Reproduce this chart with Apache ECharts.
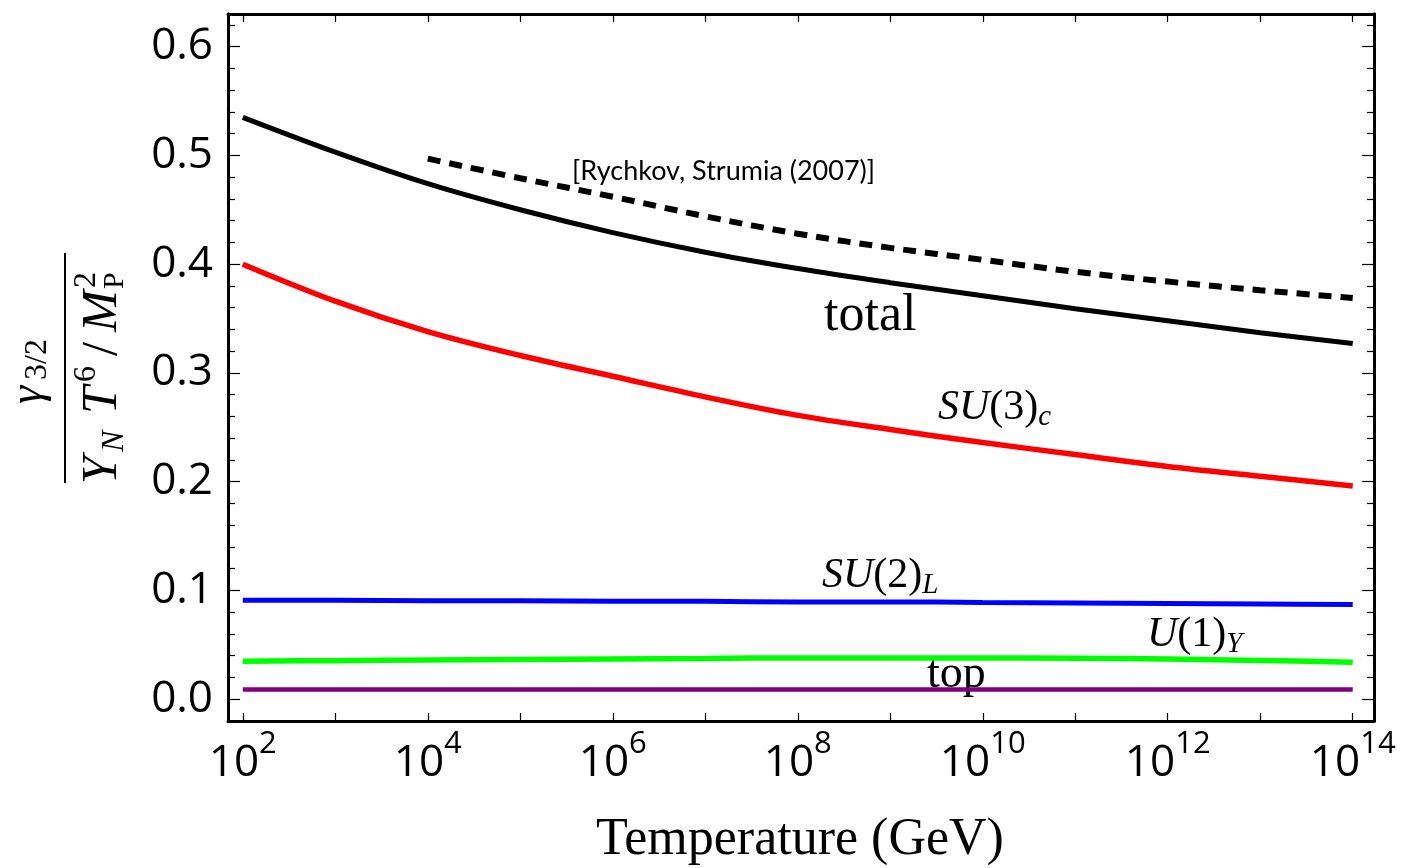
<!DOCTYPE html>
<html>
<head>
<meta charset="utf-8">
<script src="https://cdn.jsdelivr.net/npm/echarts@6/dist/echarts.min.js"></script>
<style>
  html, body { margin: 0; padding: 0; background: #fff; }
  #chart { width: 1402px; height: 868px; }
</style>
</head>
<body>
<div id="chart"></div>
<script>
  // log10(T / GeV), one point per decade
  var exps = [2, 3, 4, 5, 6, 7, 8, 9, 10, 11, 12, 13, 14];
  var total = [0.535, 0.503, 0.474, 0.450, 0.429, 0.411, 0.396, 0.383, 0.371, 0.359, 0.348, 0.337, 0.327];
  var su3 = [0.400, 0.366, 0.338, 0.316, 0.297, 0.278, 0.261, 0.248, 0.236, 0.225, 0.214, 0.205, 0.196];
  var su2 = [0.091, 0.091, 0.0905, 0.0905, 0.090, 0.090, 0.0895, 0.0895, 0.089, 0.0885, 0.088, 0.0875, 0.087];
  var u1 = [0.035, 0.0355, 0.036, 0.0365, 0.037, 0.0375, 0.038, 0.038, 0.038, 0.0378, 0.037, 0.0357, 0.034];
  var topq = [0.009, 0.009, 0.009, 0.009, 0.009, 0.009, 0.009, 0.009, 0.009, 0.009, 0.009, 0.009, 0.009];
  // Rychkov, Strumia (2007)
  var rsExps = [4, 5, 6, 7, 8, 9, 10, 11, 12, 13, 14];
  var rs = [0.497, 0.479, 0.462, 0.444, 0.428, 0.415, 0.404, 0.393, 0.384, 0.376, 0.369];

  var xTicks = [2, 3, 4, 5, 6, 7, 8, 9, 10, 11, 12, 13, 14];
  var xLabels = [2, 4, 6, 8, 10, 12, 14];
  var yLabels = [0, 0.1, 0.2, 0.3, 0.4, 0.5, 0.6];
  var yMinor = [-0.02, 0.02, 0.04, 0.06, 0.08, 0.12, 0.14, 0.16, 0.18, 0.22, 0.24, 0.26, 0.28,
    0.32, 0.34, 0.36, 0.38, 0.42, 0.44, 0.46, 0.48, 0.52, 0.54, 0.56, 0.58, 0.62];

  function pairs(xs, ys) {
    var out = [];
    for (var i = 0; i < xs.length; i++) out.push([xs[i], ys[i]]);
    return out;
  }

  var sansFont = '"Open Sans", "Noto Sans", sans-serif';
  var serifFont = '"Liberation Serif", "DejaVu Serif", serif';

  var xBase = {
    type: 'value', min: 1.84, max: 14.23,
    axisLine: { show: true, onZero: false, lineStyle: { color: '#000', width: 3 } },
    axisTick: { show: true, inside: true, length: 8, customValues: xTicks, lineStyle: { color: '#000', width: 1.2 } },
    splitLine: { show: false }
  };
  var yBase = {
    type: 'value', min: -0.02, max: 0.63,
    axisLine: { show: true, onZero: false, lineStyle: { color: '#000', width: 3 } },
    splitLine: { show: false }
  };

  function line(name, xs, ys, color, width, dash) {
    return {
      name: name, type: 'line', xAxisIndex: 0, yAxisIndex: 0,
      data: pairs(xs, ys), smooth: 0.35, symbol: 'none', silent: true,
      lineStyle: { color: color, width: width, type: dash || 'solid', cap: 'butt' }
    };
  }

  // small helper for text pieces of the y-axis title
  function mathText(str, x, y, size, italic, align) {
    return {
      type: 'text', x: x, y: y,
      style: {
        text: str, fontFamily: serifFont, fontStyle: italic ? 'italic' : 'normal',
        fontSize: size, fill: '#000', align: align || 'left', verticalAlign: 'middle'
      }
    };
  }

  var mathRich = {
    i: { fontFamily: serifFont, fontStyle: 'italic', fontSize: 42, lineHeight: 48, verticalAlign: 'middle' },
    r: { fontFamily: serifFont, fontSize: 42, lineHeight: 48, verticalAlign: 'middle' },
    s: { fontFamily: serifFont, fontStyle: 'italic', fontSize: 29, lineHeight: 29, verticalAlign: 'bottom' }
  };

  var chart = echarts.init(document.getElementById('chart'));
  var option = {
    animation: false,
    backgroundColor: '#fff',
    grid: { left: 228, right: 28, top: 14, bottom: 147 },
    xAxis: [
      Object.assign({}, xBase, {
        position: 'bottom',
        axisLabel: {
          show: true, customValues: xLabels, margin: 8,
          formatter: function (v) { return '{b|10}{s|' + v + '}'; },
          rich: {
            b: { fontFamily: sansFont, fontSize: 44, color: '#000', lineHeight: 56, verticalAlign: 'bottom' },
            s: { fontFamily: sansFont, fontSize: 31, color: '#000', lineHeight: 32, verticalAlign: 'top' }
          }
        }
      }),
      Object.assign({}, xBase, { position: 'top', axisLabel: { show: false } })
    ],
    yAxis: [
      Object.assign({}, yBase, {
        position: 'left',
        axisTick: { show: true, inside: true, length: 12, customValues: yLabels, lineStyle: { color: '#000', width: 1.2 } },
        axisLabel: {
          show: true, customValues: yLabels, margin: 15,
          fontFamily: sansFont, fontSize: 44, color: '#000',
          formatter: function (v) { return v.toFixed(1); }
        }
      }),
      Object.assign({}, yBase, {
        position: 'left',
        axisTick: { show: true, inside: true, length: 7, customValues: yMinor, lineStyle: { color: '#000', width: 1.2 } },
        axisLabel: { show: false }
      }),
      Object.assign({}, yBase, {
        position: 'right',
        axisTick: { show: true, inside: true, length: 12, customValues: yLabels, lineStyle: { color: '#000', width: 1.2 } },
        axisLabel: { show: false }
      }),
      Object.assign({}, yBase, {
        position: 'right',
        axisTick: { show: true, inside: true, length: 7, customValues: yMinor, lineStyle: { color: '#000', width: 1.2 } },
        axisLabel: { show: false }
      })
    ],
    series: [
      line('top', exps, topq, '#800080', 4.5),
      line('U(1)Y', exps, u1, '#00ff00', 5.5),
      line('SU(2)L', exps, su2, '#0000ff', 5),
      line('SU(3)c', exps, su3, '#ff0000', 5.5),
      line('total', exps, total, '#000000', 5),
      line('Rychkov, Strumia (2007)', rsExps, rs, '#000000', 6, [13, 9])
    ],
    graphic: [
      // y-axis title: gamma_{3/2} / (Y_N T^6 / M_P^2), rotated
      {
        type: 'group', x: 65, y: 368, rotation: Math.PI / 2,
        children: [
          { type: 'line', shape: { x1: -115, y1: 0, x2: 115, y2: 0 }, style: { stroke: '#000', lineWidth: 2 } },
          mathText('γ', -36, -36, 46, true),
          mathText('3/2', -12, -27, 32, false),
          mathText('Y', -116, 38, 50, true),
          mathText('N', -84, 50, 32, true),
          mathText('T', -46, 38, 50, true),
          mathText('6', -14, 22, 32, false),
          mathText('/', 12, 38, 50, false),
          mathText('M', 36, 38, 50, true),
          mathText('2', 80, 22, 32, false),
          mathText('P', 79, 50, 30, false)
        ]
      },
      // x-axis title
      {
        type: 'text', x: 800, y: 840,
        style: { text: 'Temperature (GeV)', fontFamily: serifFont, fontSize: 52, fill: '#000', align: 'center', verticalAlign: 'middle' }
      },
      // curve labels
      {
        type: 'text', x: 572, y: 171,
        style: { text: '[Rychkov, Strumia (2007)]', fontFamily: 'Lato, sans-serif', fontSize: 27, fill: '#000', align: 'left', verticalAlign: 'middle' }
      },
      {
        type: 'text', x: 824, y: 316,
        style: { text: 'total', fontFamily: serifFont, fontSize: 52, fill: '#000', align: 'left', verticalAlign: 'middle' }
      },
      { type: 'text', x: 938, y: 408, style: { text: '{i|SU}{r|(3)}{s|c}', align: 'left', verticalAlign: 'middle', rich: mathRich } },
      { type: 'text', x: 822, y: 576, style: { text: '{i|SU}{r|(2)}{s|L}', align: 'left', verticalAlign: 'middle', rich: mathRich } },
      { type: 'text', x: 1147, y: 635, style: { text: '{i|U}{r|(1)}{s|Y}', align: 'left', verticalAlign: 'middle', rich: mathRich } },
      {
        type: 'text', x: 927, y: 675,
        style: { text: 'top', fontFamily: serifFont, fontSize: 46, fill: '#000', align: 'left', verticalAlign: 'middle' }
      }
    ]
  };
  chart.setOption(option);
</script>
</body>
</html>
